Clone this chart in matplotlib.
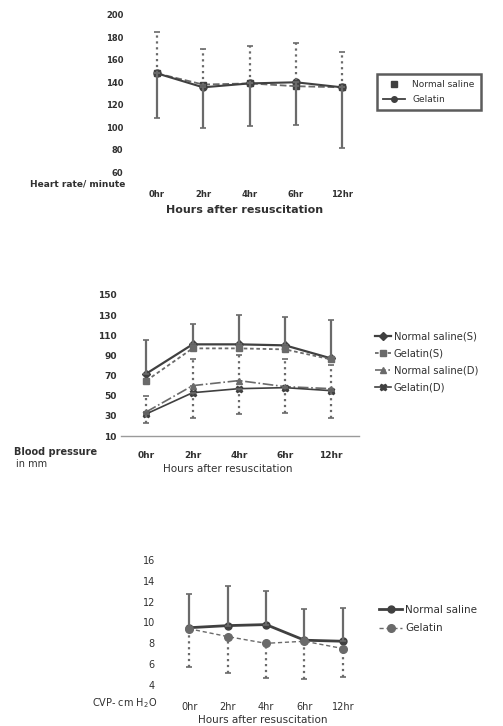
import numpy as np
import matplotlib
matplotlib.use("Agg")
import matplotlib.pyplot as plt
from matplotlib.lines import Line2D

hours = ["0hr", "2hr", "4hr", "6hr", "12hr"]

# heart rate / minute
hr_ns = [148, 138, 139, 136.5, 135.5]
hr_gel = [148, 135.5, 139, 140, 135.5]
hr_ns_top = [185, 170, 172, 175, 167]
hr_gel_bottom = [108, 99, 101, 102, 81]

# blood pressure (mm)
bp_ns_s = [72, 101, 101, 100, 87]
bp_gel_s = [65, 97, 97, 96, 86]
bp_ns_d = [34, 60, 65, 59, 57]
bp_gel_d = [32, 53, 57, 58, 55]
bp_ns_s_top = [105, 121, 130, 128, 125]
bp_ns_d_top = [50, 86, 90, 86, 80]
bp_gel_d_bottom = [23, 28, 32, 33, 28]

# CVP cm H2O
cvp_ns = [9.5, 9.7, 9.8, 8.3, 8.2]
cvp_gel = [9.4, 8.65, 8.0, 8.2, 7.5]
cvp_ns_top = [12.7, 13.5, 13.0, 11.3, 11.4]
cvp_gel_bottom = [5.7, 5.2, 4.7, 4.6, 4.8]

W, H = 503, 726
dark = "#404040"
mid = "#6a6a6a"
txt = "#303030"

plt.rcParams["font.family"] = ["DejaVu Sans"]
fig = plt.figure(figsize=(W / 100, H / 100), dpi=100)
fig.patch.set_facecolor("white")


def px_axes(left, top, right, bottom):
    return fig.add_axes([left / W, 1 - bottom / H, (right - left) / W, (bottom - top) / H])


def err_up(ax, x, y, top, ls):
    y = np.array(y)
    e = np.array(top) - y
    _, caps, bars = ax.errorbar(x, y, yerr=[np.zeros_like(e), e], fmt="none",
                                ecolor=mid, elinewidth=1.6, capsize=2.5, capthick=1.2)
    for b in bars:
        b.set_linestyle(ls)


def err_down(ax, x, y, bottom, ls):
    y = np.array(y)
    e = y - np.array(bottom)
    _, caps, bars = ax.errorbar(x, y, yerr=[e, np.zeros_like(e)], fmt="none",
                                ecolor=mid, elinewidth=1.6, capsize=2.5, capthick=1.2)
    for b in bars:
        b.set_linestyle(ls)


def style(ax, pad_y, pad_x, fs, bold=False):
    for s in ax.spines.values():
        s.set_visible(False)
    ax.tick_params(axis="y", length=0, pad=pad_y, labelsize=fs, labelcolor=txt)
    ax.tick_params(axis="x", length=0, pad=pad_x, labelsize=fs, labelcolor=txt)
    if bold:
        for t in ax.get_xticklabels() + ax.get_yticklabels():
            t.set_fontweight("semibold")
    ax.set_facecolor("none")


x = np.arange(len(hours))

# ---------- panel 1: heart rate ----------
ax1 = px_axes(129, 15, 370, 172)
ax1.plot(x, hr_ns, color=mid, ls="--", lw=1.3, marker="s", ms=5, mfc=dark, mec=dark)
ax1.plot(x, hr_gel, color=dark, ls="-", lw=1.5, marker="o", ms=5, mfc=dark, mec=dark)
err_up(ax1, x, hr_ns, hr_ns_top, ":")
err_down(ax1, x, hr_gel, hr_gel_bottom, "-")
ax1.set_xlim(-0.6, 4.6)
ax1.set_ylim(60, 200)
ax1.set_yticks(range(60, 201, 20))
ax1.set_xticks(x, hours)
style(ax1, 4, 13, 6, bold=True)
h1 = [Line2D([], [], ls="none", marker="s", ms=4, color=dark),
      Line2D([], [], ls="-", lw=1.3, marker="o", ms=4, color=dark)]
leg1 = fig.legend(h1, ["Normal saline", "Gelatin"], loc="upper left",
                  bbox_to_anchor=(372 / W, 1 - 69 / H), fontsize=6.5, frameon=True,
                  fancybox=False, edgecolor="#333333", handlelength=2.4,
                  borderpad=0.75, labelspacing=0.6)
leg1.get_frame().set_linewidth(1.8)
for t in leg1.get_texts():
    t.set_color(txt)
fig.text(125 / W, 1 - 184 / H, "Heart rate/ minute", ha="right", va="center",
         fontsize=6.5, fontweight="bold", color=txt)
fig.text(245 / W, 1 - 210 / H, "Hours after resuscitation", ha="center", va="center",
         fontsize=8, fontweight="bold", color=txt)

# ---------- panel 2: blood pressure ----------
ax2 = px_axes(121, 295, 359, 436)
ax2.plot(x, bp_ns_s, color=dark, ls="-", lw=1.6, marker="D", ms=4, label="Normal saline(S)")
ax2.plot(x, bp_gel_s, color=mid, ls=(0, (2, 1.5)), lw=1.3, marker="s", ms=4, label="Gelatin(S)")
ax2.plot(x, bp_ns_d, color=mid, ls="-.", lw=1.2, marker="^", ms=4, label="Normal saline(D)")
ax2.plot(x, bp_gel_d, color=dark, ls="-", lw=1.2, marker="X", ms=5, label="Gelatin(D)")
err_up(ax2, x, bp_ns_s, bp_ns_s_top, "-")
err_up(ax2, x, bp_ns_d, bp_ns_d_top, ":")
err_down(ax2, x, bp_gel_d, bp_gel_d_bottom, ":")
ax2.set_xlim(-0.55, 4.6)
ax2.set_ylim(10, 150)
ax2.set_yticks(range(10, 151, 20))
ax2.set_xticks(x, hours)
style(ax2, 3, 11, 6.5, bold=True)
ax2.spines["bottom"].set_visible(True)
ax2.spines["bottom"].set_color("#9a9a9a")
ax2.spines["bottom"].set_linewidth(1.0)
leg2 = fig.legend(*ax2.get_legend_handles_labels(), loc="center left",
                  bbox_to_anchor=(366 / W, 1 - 362 / H), fontsize=7.2, frameon=False,
                  handlelength=1.6, handletextpad=0.3, labelspacing=0.7)
for t in leg2.get_texts():
    t.set_color(txt)
fig.text(14 / W, 1 - 452 / H, "Blood pressure", ha="left", va="center",
         fontsize=7, fontweight="bold", color=txt)
fig.text(16 / W, 1 - 464 / H, "in mm", ha="left", va="center",
         fontsize=7, color=txt)
fig.text(228 / W, 1 - 469 / H, "Hours after resuscitation", ha="center", va="center",
         fontsize=7.5, color=txt)

# ---------- panel 3: CVP ----------
ax3 = px_axes(166, 560, 366, 685)
ax3.plot(x, cvp_ns, color=dark, ls="-", lw=2.0, marker="o", ms=5, label="Normal saline")
ax3.plot(x, cvp_gel, color=mid, ls=(0, (3, 2)), lw=1.0, marker="o", ms=5.5, label="Gelatin")
err_up(ax3, x, cvp_ns, cvp_ns_top, "-")
err_down(ax3, x, cvp_gel, cvp_gel_bottom, ":")
ax3.set_xlim(-0.6, 4.6)
ax3.set_ylim(4, 16)
ax3.set_yticks(range(4, 17, 2))
ax3.set_xticks(x, hours)
style(ax3, 8, 12, 7)
leg3 = fig.legend(*ax3.get_legend_handles_labels(), loc="center left",
                  bbox_to_anchor=(370 / W, 1 - 619 / H), fontsize=7.5, frameon=False,
                  handlelength=2.2, handletextpad=0.3, labelspacing=0.8)
for t in leg3.get_texts():
    t.set_color(txt)
fig.text(157 / W, 1 - 703 / H, "CVP- cm H$_2$O", ha="right", va="center",
         fontsize=7, color=txt)
fig.text(263 / W, 1 - 720 / H, "Hours after resuscitation", ha="center", va="center",
         fontsize=7.5, color=txt)

fig.savefig("out.png", dpi=100, facecolor="white")
